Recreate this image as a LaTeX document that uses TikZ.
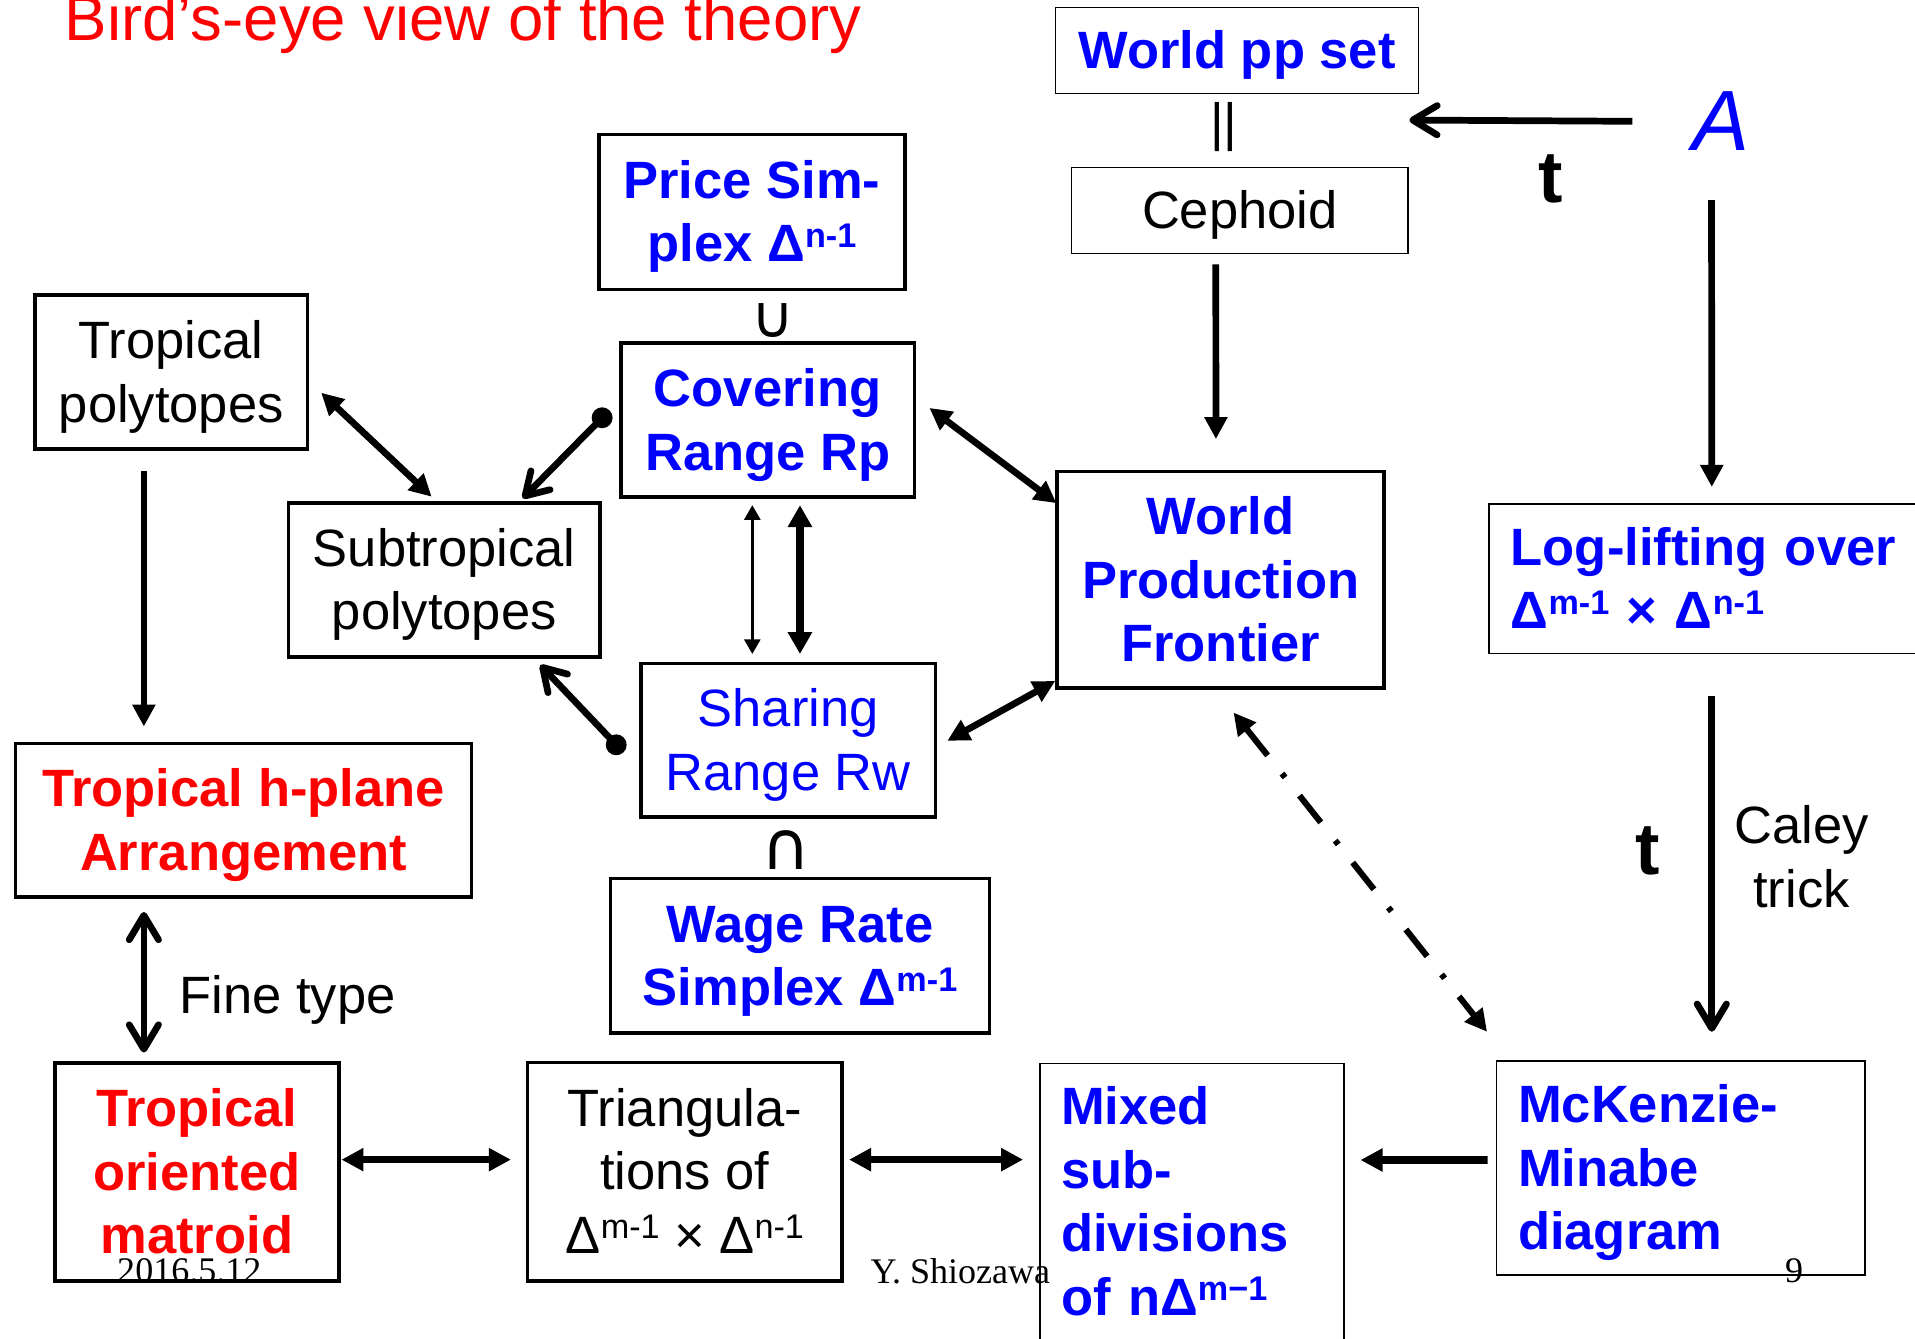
\documentclass[tikz,border=0pt]{standalone}
\usepackage{fontspec}
\setmainfont{Liberation Sans}
\newfontfamily\serifft{Liberation Serif}
\newfontfamily\djv{DejaVu Sans}
\usetikzlibrary{arrows.meta,calc}
\newcommand\st{\rule[-11pt]{0pt}{52pt}}
\newcommand\sps[1]{\raisebox{12pt}{\fontsize{28}{28}\selectfont #1}}
\newcommand\fsz{\fontsize{43}{52}\selectfont}
\tikzset{
 thickbox/.style={draw, line width=3pt, inner sep=0pt, outer sep=0pt, align=center, font=\fsz},
 thinbox/.style={draw, line width=1.3pt, inner sep=0pt, outer sep=0pt, align=center, font=\fsz},
 bluebold/.style={text=blue, font=\fsz\bfseries},
 redbold/.style={text=red, font=\fsz\bfseries},
 plain/.style={font=\fsz, inner sep=0pt, outer sep=0pt},
 conn/.style={line width=5.5pt},
 tri/.style={-{Triangle[length=18pt,width=18pt]}},
 tritri/.style={{Triangle[length=18pt,width=18pt]}-{Triangle[length=18pt,width=18pt]}},
 smalltritri/.style={{Triangle[length=12pt,width=13pt]}-{Triangle[length=12pt,width=13pt]}},
 bigtritri/.style={{Triangle[length=18pt,width=19pt]}-{Triangle[length=18pt,width=19pt]}},
 barbend/.style={-{Straight Barb[length=20pt,width=24pt,round]}},
 barbbarb/.style={{Straight Barb[length=20pt,width=24pt,round]}-{Straight Barb[length=20pt,width=24pt,round]}},
 dotbarb/.style={{Circle[length=17pt]}-{Straight Barb[length=18pt,width=22pt,round]}},
 dashdot/.style={line width=5pt, dash pattern=on 28pt off 19pt on 4pt off 19pt},
}
\begin{document}
\begin{tikzpicture}[x=1pt,y=-1pt]
\useasboundingbox (0,0) rectangle (1568,1096);
\clip (0,0) rectangle (1568,1096);
\fill[white] (0,0) rectangle (1568,1096);

% title
\node[anchor=base west, font=\fontsize{52}{52}\selectfont, text=red, inner sep=0pt] (title) at (53,32.8) {Bird’s-eye view of the theory};

% boxes
\node[thinbox, bluebold, minimum width=297.2pt, minimum height=70.4pt] (wpp) at (1012.9,41.2) {\st World pp set};
\node[plain, anchor=base] (par) at (1002,115) {||};
\node[thinbox, minimum width=275.6pt, minimum height=70.1pt] (ceph) at (1015.2,172.35) {\st Cephoid};
\node[thickbox, bluebold, minimum width=250.6pt, minimum height=126.9pt] (price) at (615.7,173.45) {\st Price Sim-\\\st plex Δ\sps{n-1}};
\node[inner sep=0pt, font=\djv\fontsize{48}{48}\selectfont] (cup) at (632.6,262.8) {∪};
\node[thickbox, bluebold, minimum width=240.2pt, minimum height=126.6pt] (cover) at (628.6,343.9) {\st Covering\\\st Range Rp};
\node[thickbox, minimum width=223pt, minimum height=126.1pt] (trop) at (140.2,304.55) {\st Tropical\\\st polytopes};
\node[thickbox, minimum width=255.1pt, minimum height=126.1pt] (subtrop) at (363.75,474.65) {\st Subtropical\\\st polytopes};
\node[thickbox, text=blue, minimum width=241.4pt, minimum height=125.8pt] (share) at (645.3,606.1) {\st Sharing\\\st Range Rw};
\node[inner sep=0pt, font=\djv\fontsize{55}{55}\selectfont] (capnode) at (643.5,696) {∩};
\node[thickbox, bluebold, minimum width=310.3pt, minimum height=126.5pt] (wage) at (655.05,782.55) {\st Wage Rate\\\st Simplex Δ\sps{m-1}};
\node[thickbox, bluebold, minimum width=267.6pt, minimum height=177.3pt] (wpf) at (999.4,474.65) {\st World\\\st Production\\\st Frontier};
\node[anchor=base, inner sep=0pt, outer sep=0pt, text=blue, font=\fontsize{70}{70}\selectfont\itshape] (A) at (1409,123.4) {A};
\node[anchor=base, inner sep=0pt, font=\fontsize{60}{60}\selectfont\bfseries] (t1) at (1270,166) {t};
\node[thinbox, bluebold, anchor=north west, align=left, text width=330pt, inner xsep=18pt, minimum height=122.4pt] (loglift) at (1219,412.6) {\st Log-lifting over\\\st Δ\sps{m-1} × Δ\sps{n-1}};
\node[anchor=base, inner sep=0pt, font=\fontsize{60}{60}\selectfont\bfseries] (t2) at (1349,716) {t};
\node[plain, align=center] (caley) at (1475,702) {\st Caley\\\st trick};
\node[thinbox, bluebold, align=left, text width=266.5pt, inner xsep=17.7pt, minimum height=175.2pt] (mck) at (1376.25,956.4) {\st McKenzie-\\\st Minabe\\\st diagram};
\node[thinbox, bluebold, align=left, text width=214.4pt, inner xsep=17.3pt, minimum height=226.3pt] (mixed) at (976,983.85) {\st Mixed\\\st sub-\\\st divisions\\\st of nΔ\sps{m−1}};
\node[thickbox, minimum width=257.5pt, minimum height=178.6pt] (triang) at (560.75,959.3) {\st Triangula-\\\st tions of\\\st Δ\sps{m-1} × Δ\sps{n-1}};
\node[thickbox, redbold, minimum width=232.8pt, minimum height=178.4pt] (tom) at (161.2,959.4) {\st Tropical\\\st oriented\\\st matroid};
\node[thickbox, redbold, minimum width=373.5pt, minimum height=125.7pt] (thpa) at (199.35,671.75) {\st Tropical h-plane\\\st Arrangement};
\node[plain, anchor=base west] (fine) at (147,829.5) {Fine type};

% footer
\node[anchor=base, inner sep=0pt, font=\serifft\fontsize{29.5}{30}\selectfont] (date) at (155,1050) {2016.5.12};
\node[anchor=base, inner sep=0pt, font=\serifft\fontsize{29.5}{30}\selectfont] (author) at (786.4,1051) {Y. Shiozawa};
\node[anchor=base, inner sep=0pt, font=\serifft\fontsize{29.5}{30}\selectfont] (page) at (1469,1050) {9};

% connectors
\draw[conn, barbend] ($(A.west)+(-49,0)$) -- ($(wpp.south east)+(-7.5,21.9)$);
\draw[conn, tri] ($(ceph.south)+(-19.7,9)$) -- ($(wpf.north)+(-3.8,-26.5)$);
\draw[conn, tri] ($(A.south)+(-7.6,40.4)$) -- ($(loglift.north west)+(182.6,-13.9)$);
\draw[conn, barbend] ($(loglift.south west)+(182.6,35)$) -- ($(mck.north west)+(176.3,-24)$);
\draw[line width=6.5pt, tri] ($(mck.west)+(-7.3,-6.6)$) -- ($(mixed.north east)+(13.5,79.1)$);
\draw[conn, tritri] ($(triang.east)+(5.7,-9.8)$) -- ($(mixed.north west)+(-13.8,78.8)$);
\draw[conn, tritri] ($(tom.east)+(2,-9.9)$) -- ($(triang.west)+(-13.7,-9.8)$);
\draw[conn, barbbarb] ($(thpa.south west)+(105.2,12.1)$) -- ($(tom.north west)+(73,-8.4)$);
\draw[conn, tri] ($(trop.south west)+(89.1,18.4)$) -- ($(thpa.north west)+(105.2,-14)$);
\draw[conn, tritri] ($(trop.east)+(11.3,17)$) -- ($(subtrop.north west)+(117.2,-4.9)$);
\draw[conn, dotbarb] ($(cover.west)+(-9.5,-7.9)$) -- ($(subtrop.north east)+(-63.3,-3.6)$);
\draw[conn, dotbarb] ($(share.west)+(-14.2,9.9)$) -- ($(subtrop.south east)+(-48.9,6.8)$);
\draw[conn, tritri] ($(cover.east)+(12.3,-9.9)$) -- ($(wpf.north west)+(-0.6,26)$);
\draw[conn, tritri] ($(share.east)+(9.7,0.4)$) -- ($(wpf.south west)+(-1.6,-5.7)$);
\draw[line width=2.5pt, smalltritri] ($(cover.south)+(-12.6,6.4)$) -- ($(share.north)+(-29.3,-7.7)$);
\draw[line width=6pt, bigtritri] ($(cover.south)+(26.4,6.4)$) -- ($(share.north)+(9.7,-7.7)$);
\draw[dashdot, tritri] ($(wpf.south)+(10.6,20.1)$) -- ($(mck.north west)+(-7.7,-24)$);
\end{tikzpicture}
\end{document}
